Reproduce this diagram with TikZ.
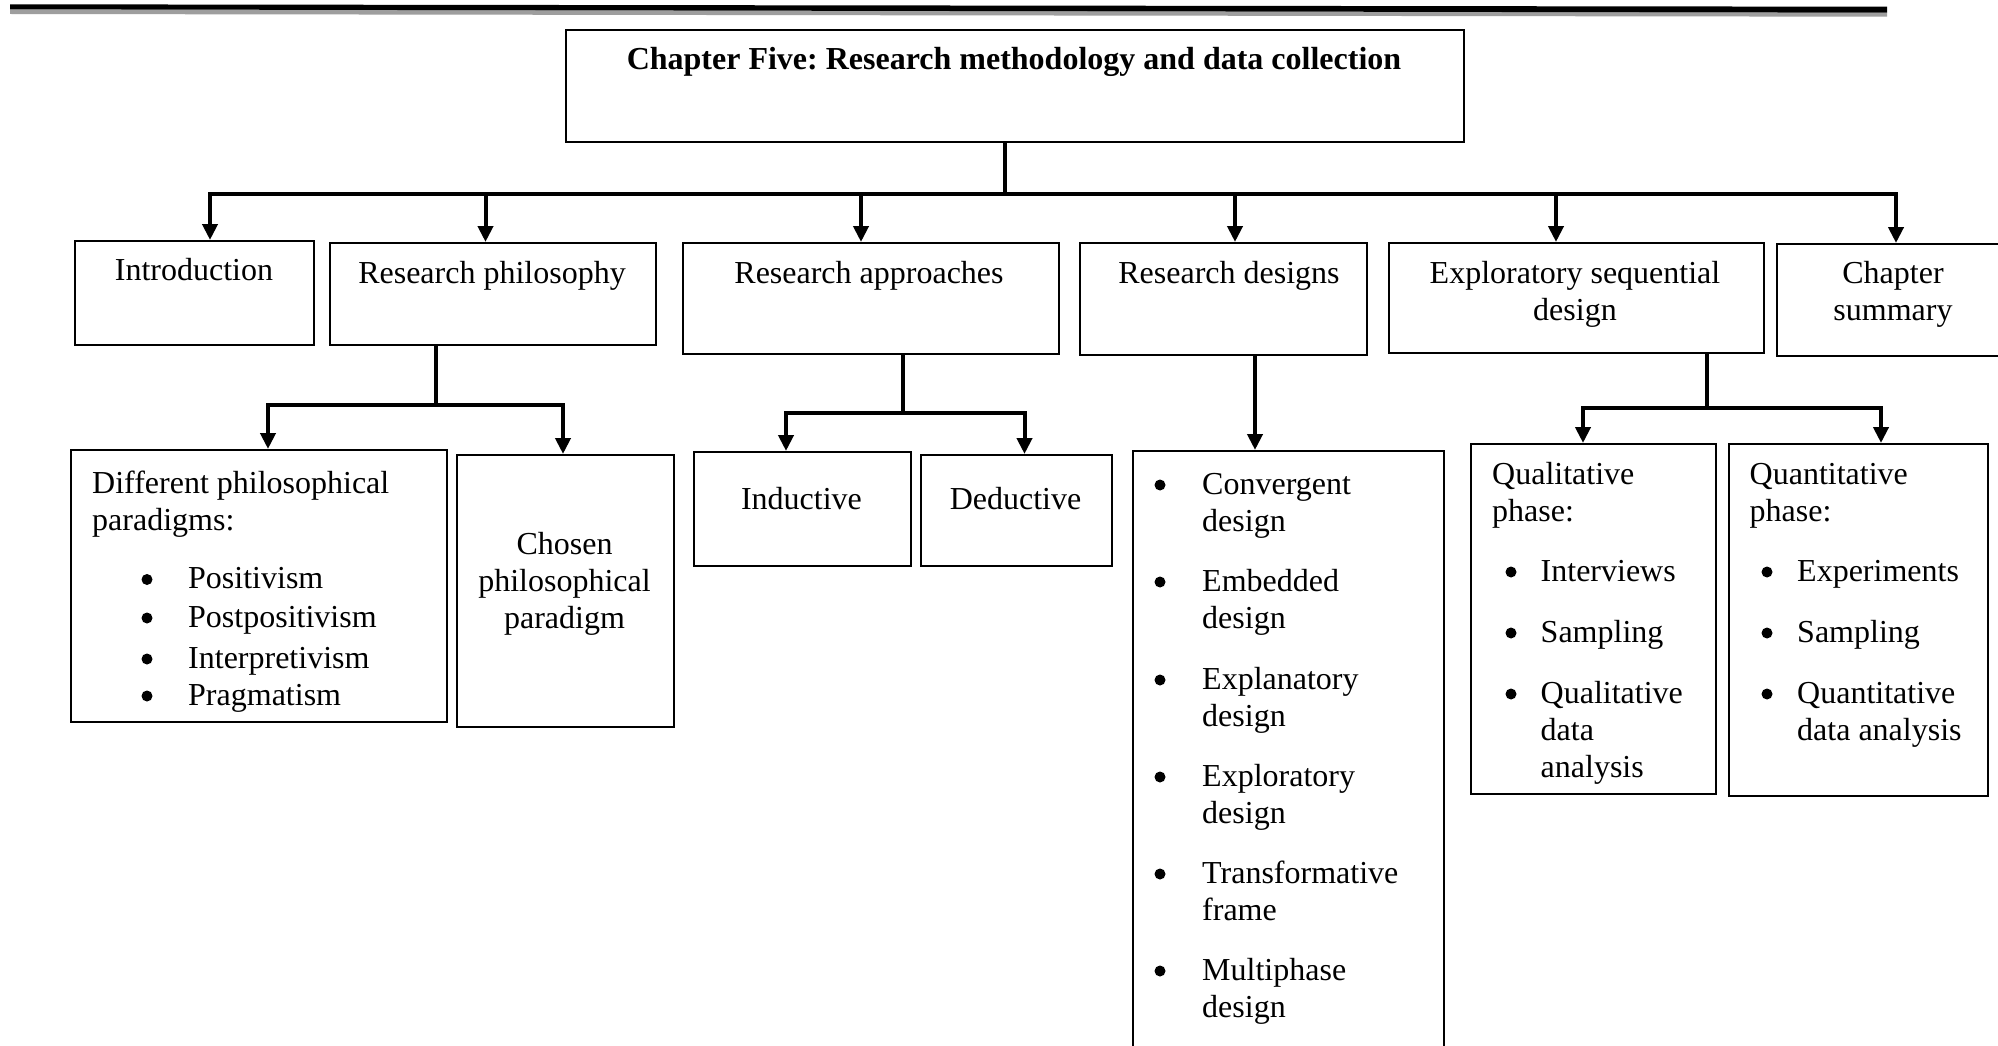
\documentclass[tikz,border=0pt]{standalone}
\usepackage{fontspec}
\setmainfont{Liberation Serif}
\usetikzlibrary{arrows.meta}
\frenchspacing
\begin{document}
\begin{tikzpicture}[x=1pt,y=-1pt,
  box/.style={draw, line width=2.2pt, anchor=north west, inner sep=0pt},
  conn/.style={line width=4pt},
  arr/.style={conn, -{Triangle[width=15pt,length=16pt]}},
  lbl/.style={anchor=base, inner sep=0pt, font=\fontsize{32}{37}\selectfont},
  lbll/.style={lbl, anchor=base west},
  bul/.style={circle, fill, inner sep=0pt, minimum size=11pt, yshift=9pt}]
\clip (0,0) rectangle (1998,1046);
\fill[white] (0,0) rectangle (1998,1046);

% header rule with its grey shadow
\fill[black!38] (10,9.3) -- (1887,12.7) -- (1887,16.7) -- (10,14) -- cycle;
\fill[black] (10,4.3) -- (1887,6.7) -- (1887,12.7) -- (10,9.3) -- cycle;

% boxes
\node[box, minimum width=898, minimum height=112] (top) at (565,29) {};
\node[box, minimum width=239, minimum height=104] (intro) at (74,240) {};
\node[box, minimum width=326, minimum height=102] (phil) at (329,242) {};
\node[box, minimum width=376, minimum height=111] (appr) at (682,242) {};
\node[box, minimum width=287, minimum height=112] (dsg) at (1079,242) {};
\node[box, minimum width=375, minimum height=110] (expl) at (1388,242) {};
\node[box, minimum width=234, minimum height=112] (summ) at (1776,243) {};
\node[box, minimum width=376, minimum height=272] (diff) at (70,449) {};
\node[box, minimum width=217, minimum height=272] (chosen) at (456,454) {};
\node[box, minimum width=217, minimum height=114] (induct) at (693,451) {};
\node[box, minimum width=191, minimum height=111] (deduct) at (920,454) {};
\node[box, minimum width=311, minimum height=620] (dlist) at (1132,450) {};
\node[box, minimum width=245, minimum height=350] (qual) at (1470,443) {};
\node[box, minimum width=259, minimum height=352] (quant) at (1728,443) {};

% junction points of the connectors
\coordinate (hub) at (1005,194);
\coordinate (b1) at (210,194);
\coordinate (b2) at (485.5,194);
\coordinate (b3) at (861,194);
\coordinate (b4) at (1235,194);
\coordinate (b5) at (1556,194);
\coordinate (b6) at (1896,194);
\coordinate (pj) at (436,405);
\coordinate (p1) at (268,405);
\coordinate (p2) at (563,405);
\coordinate (aj) at (903,413);
\coordinate (a1) at (786,413);
\coordinate (a2) at (1024.5,413);
\coordinate (dj) at (1255,400);
\coordinate (ej) at (1707,408);
\coordinate (e1) at (1583,408);
\coordinate (e2) at (1881,408);

% connectors
\draw[conn] (hub |- top.south) -- (hub);
\draw[arr] (hub) -| (b1 |- intro.north);
\draw[arr] (hub) -| (b6 |- summ.north);
\draw[arr] (b2) -- (b2 |- phil.north);
\draw[arr] (b3) -- (b3 |- appr.north);
\draw[arr] (b4) -- (b4 |- dsg.north);
\draw[arr] (b5) -- (b5 |- expl.north);

\draw[conn] (pj |- phil.south) -- (pj);
\draw[arr] (pj) -| (p1 |- diff.north);
\draw[arr] (pj) -| (p2 |- chosen.north);

\draw[conn] (aj |- appr.south) -- (aj);
\draw[arr] (aj) -| (a1 |- induct.north);
\draw[arr] (aj) -| (a2 |- deduct.north);

\draw[arr] (dj |- dsg.south) -- (dj |- dlist.north);

\draw[conn] (ej |- expl.south) -- (ej);
\draw[arr] (ej) -| (e1 |- qual.north);
\draw[arr] (ej) -| (e2 |- quant.north);

% first-level labels
\node[lbl] (t-top) at (1014,70) {\textbf{Chapter Five: Research methodology and data collection}};
\node[lbl] (t-intro) at (194,280) {Introduction};
\node[lbl] (t-phil) at (492,283) {Research philosophy};
\node[lbl] (t-appr) at (869,283) {Research approaches};
\node[lbl] (t-dsg) at (1229,283) {Research designs};
\node[lbl] (t-expl1) at (1575,283) {Exploratory sequential};
\node[lbl] (t-expl2) at (1575,320) {design};
\node[lbl] (t-summ1) at (1893,283) {Chapter};
\node[lbl] (t-summ2) at (1893,320) {summary};

% philosophical paradigms
\node[lbll] (t-diff1) at (92,493) {Different philosophical};
\node[lbll] (t-diff2) at (92,530) {paradigms:};
\begin{scope}
\clip (70,449) rectangle (446,711);
\foreach \i/\y/\t in {1/588.5/Positivism, 2/627/Postpositivism, 3/668/Interpretivism, 4/705/Pragmatism}{
  \node[bul] (d-dot\i) at (147,\y) {};
  \node[lbll] (d-item\i) at (188,\y) {\t};
}
\end{scope}
\node[lbl] (t-ch1) at (564.5,554) {Chosen};
\node[lbl] (t-ch2) at (564.5,591) {philosophical};
\node[lbl] (t-ch3) at (564.5,628) {paradigm};

% approaches
\node[lbl] (t-ind) at (801.5,509.5) {Inductive};
\node[lbl] (t-ded) at (1015.5,509.5) {Deductive};

% mixed-methods designs
\foreach \i/\y/\ta/\tb in {1/494/Convergent/design, 2/591/Embedded/design, 3/689/Explanatory/design,
  4/786/Exploratory/design, 5/883/Transformative/frame, 6/980/Multiphase/design}{
  \node[bul] (g-dot\i) at (1160,\y) {};
  \node[lbll] (g-a\i) at (1202,\y) {\ta};
  \node[lbll] (g-b\i) at (1202,\y+37) {\tb};
}

% qualitative phase
\node[lbll] (t-ql1) at (1492,484) {Qualitative};
\node[lbll] (t-ql2) at (1492,521) {phase:};
\foreach \i/\y/\t in {1/581/Interviews, 2/642/Sampling, 3/703/Qualitative}{
  \node[bul] (q-dot\i) at (1511,\y) {};
  \node[lbll] (q-item\i) at (1540.5,\y) {\t};
}
\node[lbll] (q-item4) at (1540.5,740) {data};
\node[lbll] (q-item5) at (1540.5,777) {analysis};

% quantitative phase
\node[lbll] (t-qn1) at (1749.5,484) {Quantitative};
\node[lbll] (t-qn2) at (1749.5,521) {phase:};
\foreach \i/\y/\t in {1/581/Experiments, 2/642/Sampling, 3/703/Quantitative}{
  \node[bul] (n-dot\i) at (1767,\y) {};
  \node[lbll] (n-item\i) at (1797,\y) {\t};
}
\node[lbll] (n-item4) at (1797,740) {data analysis};
\end{tikzpicture}
\end{document}
